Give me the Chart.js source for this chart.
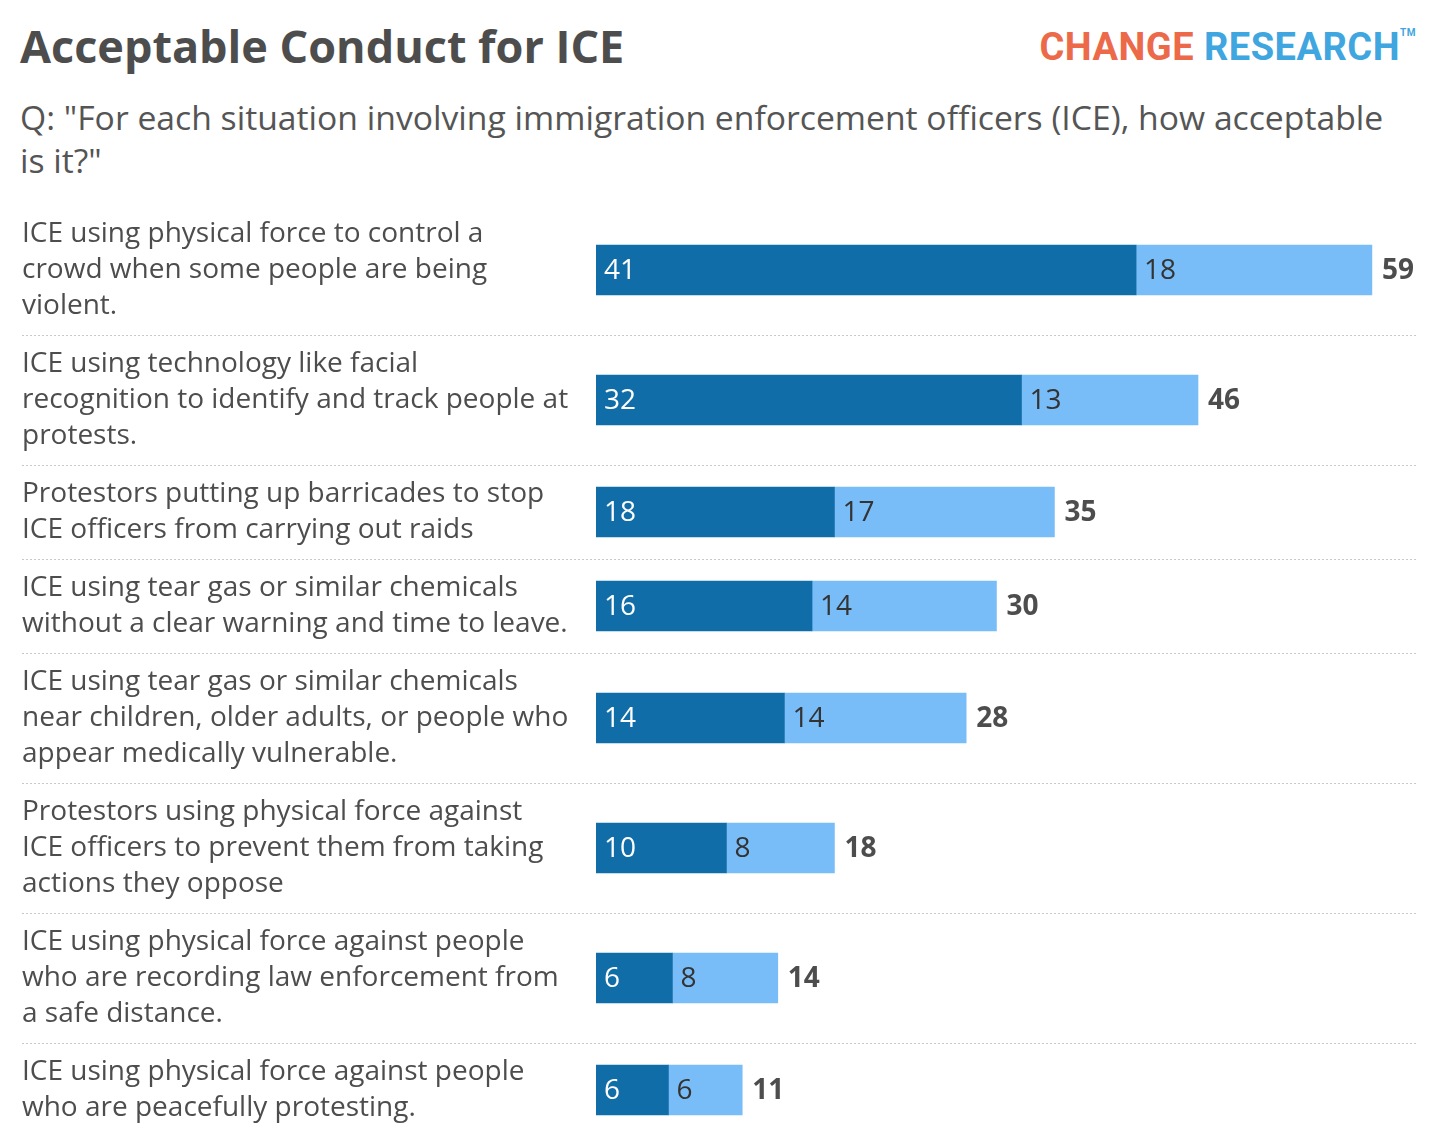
<!DOCTYPE html>
<html>
<head>
<meta charset="utf-8">
<script src="https://cdn.jsdelivr.net/npm/chart.js@4.4.1/dist/chart.umd.min.js"></script>
<style>
  body { margin: 0; background: #fff; width: 1440px; height: 1146px; position: relative; overflow: hidden; font-family: "Open Sans", sans-serif; }
  .title { position: absolute; left: 20px; top: 15px; font-size: 45px; font-weight: 700; color: #4d4d4d; white-space: nowrap; }
  .logo { position: absolute; right: 24px; top: 25px; font-family: "Liberation Sans Narrow", "Roboto", sans-serif; font-weight: 700; font-size: 38px; letter-spacing: 0.5px; white-space: nowrap; }
  .logo .c { color: #ec6a4a; }
  .logo .r { color: #3fa6df; }
  .logo sup { font-size: 10px; color: #3fa6df; vertical-align: 24px; }
  .subtitle { position: absolute; left: 20px; top: 96px; font-size: 33.7px; line-height: 43px; color: #555; white-space: nowrap; }
  #wrap { position: absolute; left: 0; top: 205px; width: 1440px; height: 932px; }
</style>
</head>
<body>
<div class="title">Acceptable Conduct for ICE</div>
<div class="logo"><span class="c">CHANGE</span> <span class="r">RESEARCH</span><sup>TM</sup></div>
<div class="subtitle">Q: "For each situation involving immigration enforcement officers (ICE), how acceptable<br>is it?"</div>
<div id="wrap"><canvas id="myChart"></canvas></div>
<script>
// situations, already wrapped the way the original shows them
const situations = [
  ["ICE using physical force to control a", "crowd when some people are being", "violent."],
  ["ICE using technology like facial", "recognition to identify and track people at", "protests."],
  ["Protestors putting up barricades to stop", "ICE officers from carrying out raids"],
  ["ICE using tear gas or similar chemicals", "without a clear warning and time to leave."],
  ["ICE using tear gas or similar chemicals", "near children, older adults, or people who", "appear medically vulnerable."],
  ["Protestors using physical force against", "ICE officers to prevent them from taking", "actions they oppose"],
  ["ICE using physical force against people", "who are recording law enforcement from", "a safe distance."],
  ["ICE using physical force against people", "who are peacefully protesting."],
];
const veryAcceptable = [41.0, 32.3, 18.1, 16.4, 14.3, 9.9, 5.8, 5.5];
const somewhatAcceptable = [17.9, 13.4, 16.7, 14.0, 13.8, 8.2, 8.0, 5.6];
const totalAcceptable = [59, 46, 35, 30, 28, 18, 14, 11];

const DARK = "#116da8";
const LIGHT = "#78bdf8";
const TEXT = "#4d4d4d";
const FONT = "Open Sans";
const LINE_H = 36;

// each row is as tall as its label needs
let rowStarts = [];
let rowCenters = [];
let pos = 0;
situations.forEach((lines) => {
  const h = lines.length * LINE_H + 22;
  rowStarts.push(pos);
  rowCenters.push(pos + h / 2);
  pos += h;
});
const rowsEnd = pos;

const separators = {
  id: "separators",
  beforeDatasetsDraw(chart) {
    const ctx = chart.ctx;
    const y = chart.scales.y;
    ctx.save();
    ctx.strokeStyle = "#c9c9c9";
    ctx.lineWidth = 1;
    ctx.setLineDash([2, 2]);
    rowStarts.slice(1).forEach((v) => {
      const py = Math.round(y.getPixelForValue(v)) + 0.5;
      ctx.beginPath();
      ctx.moveTo(22, py);
      ctx.lineTo(chart.chartArea.right, py);
      ctx.stroke();
    });
    ctx.restore();
  },
};

const barLabels = {
  id: "barLabels",
  afterDatasetsDraw(chart) {
    const ctx = chart.ctx;
    ctx.save();
    ctx.textBaseline = "middle";
    ctx.textAlign = "left";
    chart.data.datasets.forEach((ds, di) => {
      const meta = chart.getDatasetMeta(di);
      meta.data.forEach((bar, i) => {
        const left = Math.min(bar.x, bar.base);
        ctx.font = "400 28px '" + FONT + "'";
        ctx.fillStyle = di === 0 ? "#ffffff" : "#333333";
        ctx.fillText(String(Math.round(ds.data[i].x)), left + 8, bar.y + 1);
        if (di === chart.data.datasets.length - 1) {
          ctx.font = "700 28px '" + FONT + "'";
          ctx.fillStyle = TEXT;
          ctx.fillText(String(totalAcceptable[i]), bar.x + 10, bar.y + 1);
        }
      });
    });
    ctx.restore();
  },
};

var ctx = document.getElementById("myChart").getContext("2d");
var myChart = new Chart(ctx, {
  type: "bar",
  data: {
    datasets: [
      {
        label: "Very acceptable",
        data: veryAcceptable.map((v, i) => ({ x: v, y: rowCenters[i] })),
        backgroundColor: DARK,
      },
      {
        label: "Somewhat acceptable",
        data: somewhatAcceptable.map((v, i) => ({ x: v, y: rowCenters[i] })),
        backgroundColor: LIGHT,
      },
    ],
  },
  options: {
    indexAxis: "y",
    responsive: true,
    maintainAspectRatio: false,
    animation: false,
    layout: { padding: { left: 22, right: 22, top: 0, bottom: 0 } },
    datasets: { bar: { barThickness: 50 } },
    plugins: { legend: { display: false }, tooltip: { enabled: false } },
    scales: {
      x: { type: "linear", stacked: true, min: 0, max: 62.4, display: false },
      y: {
        type: "linear",
        stacked: true,
        reverse: true,
        offset: false,
        min: 0,
        max: rowsEnd,
        grid: { display: false },
        border: { display: false },
        afterBuildTicks: (scale) => {
          scale.ticks = rowCenters.map((v) => ({ value: v }));
        },
        afterFit: (scale) => {
          // labels sit inside their rows, so no extra room above/below
          scale.width = 574;
          scale.paddingTop = 0;
          scale.paddingBottom = 0;
        },
        ticks: {
          autoSkip: false,
          crossAlign: "far",
          padding: 0,
          color: TEXT,
          font: { family: FONT, size: 28, lineHeight: LINE_H / 28 },
          callback: (value, index) => situations[index],
        },
      },
    },
  },
  plugins: [separators, barLabels],
});
</script>
</body>
</html>
